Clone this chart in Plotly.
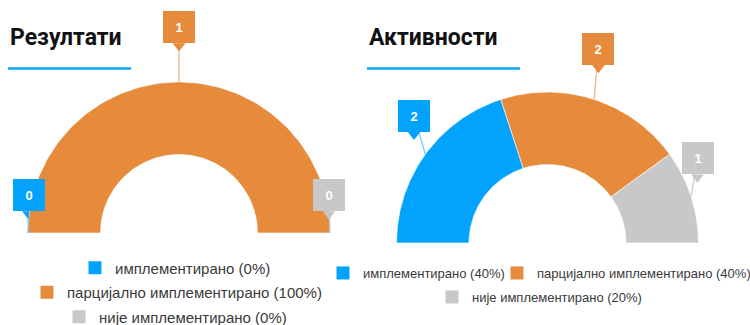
import numpy as np
import plotly.graph_objects as go

# ---- data -------------------------------------------------------------
categories = ["имплементирано", "парцијално имплементирано", "није имплементирано"]
results_counts = [0, 1, 0]
activities_counts = [2, 2, 1]
chart_titles = ["Резултати", "Активности"]

# ---- style ------------------------------------------------------------
COLORS = ["#03a3fd", "#e68a3c", "#c8c8c8"]
LINE_COLORS = ["rgba(3,163,253,0.55)", "rgba(230,138,60,0.6)", "rgba(190,190,190,0.8)"]
W, H = 750, 325
R_PX = 151          # pixels per unit radius
HOLE = 0.52         # inner radius / outer radius
FONT = "Liberation Sans"
TITLE_FONT = "Roboto"

# pixel centre of each half-donut and horizontal pixel span of its axes
panels = [
    dict(cx=179, cy=233, x0=0, x1=375, xa="x", ya="y", legend_font=15),
    dict(cx=547.5, cy=243, x0=375, x1=750, xa="x2", ya="y2", legend_font=13),
]

# legend entry placement (text left edge, row centre) in pixels, per panel
legend_pos = [
    [(115, 268), (67, 292.5), (99, 317)],
    [(363, 273), (537, 273), (472, 297)],
]

fig = go.Figure()


def ring_polygon(a0, a1, n=120):
    """Closed outline of a donut sector between angles a0 and a1 (degrees)."""
    t = np.radians(np.linspace(a0, a1, n))
    xs = np.concatenate([np.cos(t), HOLE * np.cos(t[::-1]), [np.cos(t[0])]])
    ys = np.concatenate([np.sin(t), HOLE * np.sin(t[::-1]), [np.sin(t[0])]])
    return xs, ys


annotations = []
for p, counts in zip(panels, [results_counts, activities_counts]):
    total = sum(counts)
    start = 180.0
    for i, (name, v) in enumerate(zip(categories, counts)):
        span = 180.0 * v / total
        a0, a1 = start, start - span
        start = a1
        if v > 0:
            xs, ys = ring_polygon(a0, a1)
            fig.add_trace(go.Scatter(
                x=xs, y=ys, mode="lines", fill="toself",
                fillcolor=COLORS[i], line=dict(width=0.6, color="white"),
                hoverinfo="skip", showlegend=False,
                xaxis=p["xa"], yaxis=p["ya"]))

        # callout label anchored at the outer edge of the slice midpoint
        mid = np.radians((a0 + a1) / 2)
        axp, ayp = np.cos(mid), np.sin(mid)
        dx = 14 * np.cos(mid)
        # keep the label box within the ring's horizontal extent
        dx = float(np.clip(axp * R_PX + dx, -R_PX + 0.5, R_PX - 1) - axp * R_PX)
        dy = 38 + 17 * np.sin(mid) ** 6
        bx, by = axp + dx / R_PX, ayp + dy / R_PX
        annotations.append(dict(
            x=axp, y=ayp, ax=bx, ay=by,
            xref=p["xa"], yref=p["ya"], axref=p["xa"], ayref=p["ya"],
            text=f"<b>{v}</b>", showarrow=True, arrowhead=0,
            arrowwidth=1.3, arrowcolor=LINE_COLORS[i], standoff=0,
            font=dict(family=FONT, size=13, color="white"),
            bgcolor=COLORS[i], bordercolor=COLORS[i], borderwidth=0,
            borderpad=3, width=26, height=26, align="center", valign="middle"))
        # pointer under the label box
        fig.add_trace(go.Scatter(
            x=[bx], y=[by - 19 / R_PX], mode="markers",
            marker=dict(symbol="triangle-down", size=11, color=COLORS[i]),
            hoverinfo="skip", showlegend=False,
            xaxis=p["xa"], yaxis=p["ya"]))

# ---- legends (one per entry so each can be placed on its own) ----------
legend_layout = {}
n_leg = 0
for k, (p, counts) in enumerate(zip(panels, [results_counts, activities_counts])):
    total = sum(counts)
    for i, (name, v) in enumerate(zip(categories, counts)):
        n_leg += 1
        lid = "legend" if n_leg == 1 else f"legend{n_leg}"
        pct = round(100 * v / total)
        fig.add_trace(go.Scatter(
            x=[None], y=[None], mode="markers", name=f"{name} ({pct}%)",
            marker=dict(symbol="square", size=13, color=COLORS[i]),
            legend=lid, xaxis=p["xa"], yaxis=p["ya"]))
        tx, ty = legend_pos[k][i]
        legend_layout[lid] = dict(
            x=(tx - 40) / W, y=1 - ty / H, xanchor="left", yanchor="middle",
            orientation="h", bgcolor="rgba(0,0,0,0)", borderwidth=0,
            font=dict(family=FONT, size=p["legend_font"], color="#3a3a3a"),
            itemwidth=30, itemclick=False, itemdoubleclick=False)

# ---- titles -----------------------------------------------------------
title_x = [8, 367]
underline = [(8, 131), (367, 520)]
shapes = []
for t, tx, (u0, u1) in zip(chart_titles, title_x, underline):
    annotations.append(dict(
        x=tx / W, y=1 - 38 / H, xref="paper", yref="paper",
        xanchor="left", yanchor="middle", showarrow=False,
        text=f"<b>{t}</b>", font=dict(family=TITLE_FONT, size=23, color="#111111")))
    shapes.append(dict(
        type="line", xref="paper", yref="paper",
        x0=u0 / W, x1=u1 / W, y0=1 - 68.5 / H, y1=1 - 68.5 / H,
        line=dict(color="#08a4f4", width=2.5)))

# ---- axes -------------------------------------------------------------
axes = {}
for n, p in enumerate(panels):
    sfx = "" if n == 0 else str(n + 1)
    axes["xaxis" + sfx] = dict(
        domain=[p["x0"] / W, p["x1"] / W],
        range=[(p["x0"] - p["cx"]) / R_PX, (p["x1"] - p["cx"]) / R_PX],
        visible=False, fixedrange=True)
    axes["yaxis" + sfx] = dict(
        domain=[0, 1],
        range=[-(H - p["cy"]) / R_PX, p["cy"] / R_PX],
        visible=False, fixedrange=True)

fig.update_layout(
    width=W, height=H,
    margin=dict(l=0, r=0, t=0, b=0, pad=0, autoexpand=False),
    paper_bgcolor="white", plot_bgcolor="white",
    annotations=annotations, shapes=shapes, hovermode=False,
    **axes, **legend_layout)

fig.write_html("out.html", config={"displayModeBar": False})
